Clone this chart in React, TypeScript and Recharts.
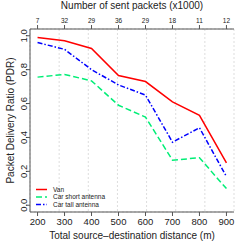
import React from 'react';
import { LineChart, Line, XAxis, YAxis, CartesianGrid } from 'recharts';

const distances = [200, 300, 400, 500, 600, 700, 800, 900];
const sentPackets = ['7', '32', '29', '36', '29', '18', '11', '12'];
const van = [0.99, 0.97, 0.925, 0.765, 0.73, 0.61, 0.53, 0.25];
const carShort = [0.756, 0.772, 0.734, 0.59, 0.52, 0.266, 0.28, 0.098];
const carTall = [0.96, 0.92, 0.8, 0.71, 0.65, 0.372, 0.457, 0.169];
const yTicks = [0, 0.2, 0.4, 0.6, 0.8, 1.0];
const seriesNames = ['Van', 'Car short antenna', 'Car tall antenna'];

const data = distances.map((d, i) => ({ d, van: van[i], short: carShort[i], tall: carTall[i] }));

const FONT = '"Liberation Sans", Arial, sans-serif';
const BOX = '#555';
const RED = '#ff0000';
const GREEN = '#00ee76';
const BLUE = '#0000ff';

const YTick = (props: any) => {
  const { x, y, payload } = props;
  return (
    <text x={x} y={y} transform={`rotate(-90 ${x} ${y})`} textAnchor="middle" dy={3} fontSize={9.5} fill="#222" fontFamily={FONT}>
      {Number(payload.value).toFixed(1)}
    </text>
  );
};

const legendItems = [
  { label: seriesNames[0], color: RED, dash: undefined },
  { label: seriesNames[1], color: GREEN, dash: '6 3' },
  { label: seriesNames[2], color: BLUE, dash: '5 2 1.5 2' },
];

export default function App() {
  return (
    <div style={{ position: 'absolute', left: 0, top: 0, width: 249, height: 249 }}>
      <LineChart width={249} height={249} data={data} margin={{ top: 0, right: 15, bottom: 0, left: 0 }}>
        <CartesianGrid stroke="#ddd" strokeDasharray="2 2" />
        <XAxis
          xAxisId="b"
          dataKey="d"
          type="number"
          domain={[172, 928]}
          ticks={distances}
          height={37}
          stroke={BOX}
          tickSize={4}
          tick={{ fontSize: 9.5, fill: '#222', fontFamily: FONT }}
          interval={0}
          label={{ value: 'Total source\u2013destination distance (m)', position: 'insideBottom', offset: 10, fontSize: 10, fill: '#222', fontFamily: FONT }}
        />
        <XAxis
          xAxisId="t"
          dataKey="d"
          orientation="top"
          type="number"
          domain={[172, 928]}
          ticks={distances}
          height={29}
          stroke={BOX}
          tickSize={4}
          tick={{ fontSize: 6.5, fill: '#222', fontFamily: FONT }}
          interval={0}
          tickFormatter={(v: number) => sentPackets[distances.indexOf(v)] ?? ''}
          label={{ value: 'Number of sent packets (x1000)', position: 'insideTop', offset: 2, fontSize: 10, fill: '#222', fontFamily: FONT }}
        />
        <YAxis
          yAxisId="l"
          type="number"
          domain={[-0.04, 1.04]}
          ticks={yTicks}
          width={30}
          stroke={BOX}
          tickSize={4}
          tick={<YTick />}
          interval={0}
          label={{ value: 'Packet Delivery Ratio (PDR)', angle: -90, position: 'insideLeft', offset: 0, dx: 10, fontSize: 10, fill: '#222', fontFamily: FONT, style: { textAnchor: 'middle' } }}
        />
        <YAxis yAxisId="r" orientation="right" type="number" domain={[-0.04, 1.04]} width={0} tick={false} tickLine={false} stroke={BOX} />
        <Line xAxisId="b" yAxisId="l" dataKey="van" name={seriesNames[0]} stroke={RED} strokeWidth={1.5} dot={false} isAnimationActive={false} />
        <Line xAxisId="b" yAxisId="l" dataKey="short" name={seriesNames[1]} stroke={GREEN} strokeWidth={1.5} strokeDasharray="6 3" dot={false} isAnimationActive={false} />
        <Line xAxisId="b" yAxisId="l" dataKey="tall" name={seriesNames[2]} stroke={BLUE} strokeWidth={1.5} strokeDasharray="5 2 1.5 2" dot={false} isAnimationActive={false} />
      </LineChart>
      <svg width={110} height={30} style={{ position: 'absolute', left: 33, top: 184 }}>
        {legendItems.map((it, i) => (
          <g key={it.label}>
            <line x1={3} x2={14} y1={5.5 + i * 7.5} y2={5.5 + i * 7.5} stroke={it.color} strokeWidth={1.5} strokeDasharray={it.dash} />
            <text x={20} y={5.5 + i * 7.5} dy={2.3} fontSize={6.5} fill="#222" fontFamily={FONT}>{it.label}</text>
          </g>
        ))}
      </svg>
    </div>
  );
}
